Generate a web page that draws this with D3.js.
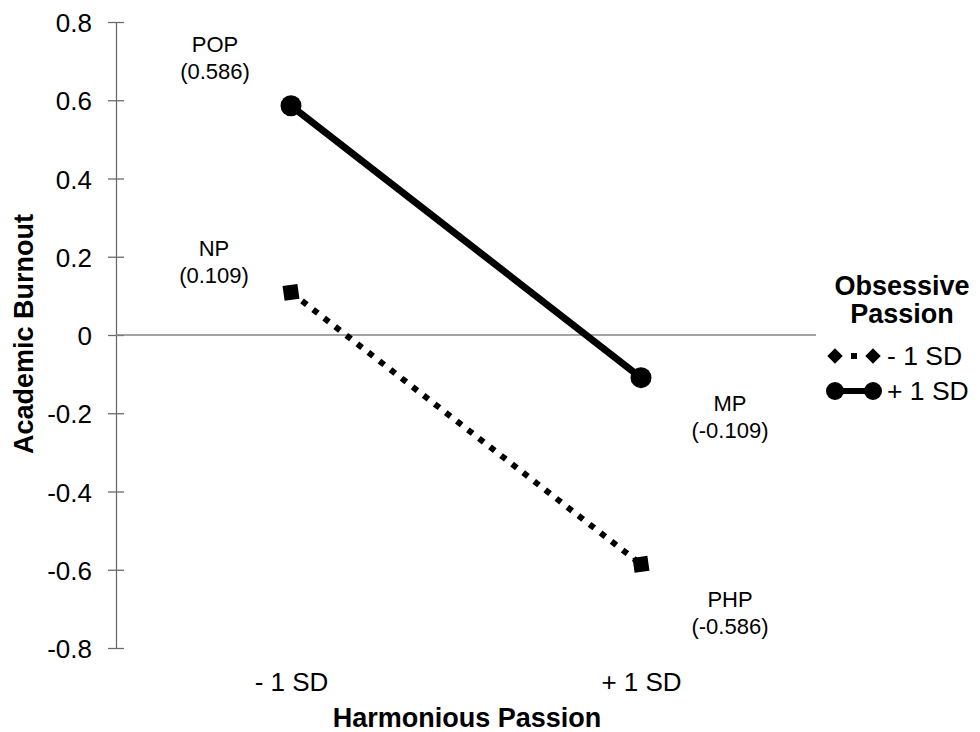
<!DOCTYPE html>
<html>
<head>
  <meta charset="utf-8">
  <title>Academic Burnout by Harmonious and Obsessive Passion</title>
  <script src="https://d3js.org/d3.v7.min.js"></script>
  <style>
    body { margin: 0; background: #fff; }
    svg { display: block; font-family: "Liberation Sans", Arial, sans-serif; }
  </style>
</head>
<body>
  <script>
    // Data
    var categories = ["- 1 SD", "+ 1 SD"];          // Harmonious Passion
    var seriesNames = ["- 1 SD", "+ 1 SD"];         // Obsessive Passion
    var lowOP = [0.109, -0.586];
    var highOP = [0.586, -0.109];
    var lowOPLabels = ["NP", "PHP"];
    var highOPLabels = ["POP", "MP"];
    var yTicks = [0.8, 0.6, 0.4, 0.2, 0, -0.2, -0.4, -0.6, -0.8];

    var width = 980, height = 732;
    var svg = d3.select("body").append("svg")
      .attr("width", width)
      .attr("height", height);

    // plot area (window.top is reserved, so use other names)
    var plotLeft = 116, plotRight = 816, plotTop = 22, plotBottom = 648;

    var x = d3.scalePoint().domain(categories).range([plotLeft, plotRight]).padding(0.5);
    var y = d3.scaleLinear().domain([-0.8, 0.8]).range([plotBottom, plotTop]);

    // y axis, ticks cross the line
    var yAxis = svg.append("g")
      .attr("transform", "translate(" + plotLeft + ",0)")
      .call(d3.axisLeft(y).tickValues(yTicks).tickSize(8).tickSizeOuter(0).tickPadding(16)
        .tickFormat(function (d) { return d === 0 ? "0" : d3.format(".1f")(d).replace("−", "-"); }));
    yAxis.select(".domain").attr("stroke", "#6b6b6b").attr("stroke-width", 1.3);
    yAxis.selectAll(".tick line").attr("x1", 8).attr("stroke", "#6b6b6b").attr("stroke-width", 1.3);
    yAxis.selectAll(".tick text")
      .attr("font-size", 26)
      .attr("font-family", "Liberation Sans, Arial, sans-serif")
      .attr("fill", "#000")
      .attr("dy", "0.37em");

    // zero line
    svg.append("line")
      .attr("x1", plotLeft).attr("x2", plotRight)
      .attr("y1", y(0)).attr("y2", y(0))
      .attr("stroke", "#858585").attr("stroke-width", 1.5);

    // x axis: labels only
    var xAxis = svg.append("g")
      .attr("transform", "translate(0," + plotBottom + ")")
      .call(d3.axisBottom(x).tickSize(0).tickPadding(25));
    xAxis.select(".domain").remove();
    xAxis.selectAll(".tick text")
      .attr("font-size", 26)
      .attr("font-family", "Liberation Sans, Arial, sans-serif")
      .attr("fill", "#000");

    // axis titles
    svg.append("text")
      .attr("x", 467).attr("y", 727)
      .attr("text-anchor", "middle")
      .attr("font-size", 27).attr("font-weight", "bold")
      .text("Harmonious Passion");

    svg.append("text")
      .attr("transform", "translate(33,334) rotate(-90)")
      .attr("text-anchor", "middle")
      .attr("font-size", 27).attr("font-weight", "bold")
      .text("Academic Burnout");

    var line = d3.line()
      .x(function (d, i) { return x(categories[i]); })
      .y(function (d) { return y(d); });

    // -1 SD obsessive passion: dotted line with square markers
    svg.append("path")
      .datum(lowOP)
      .attr("d", line)
      .attr("fill", "none")
      .attr("stroke", "#000")
      .attr("stroke-width", 6)
      .attr("stroke-dasharray", "6 8");

    svg.selectAll(".sq")
      .data(lowOP)
      .enter().append("rect")
      .attr("class", "sq")
      .attr("x", -7.5).attr("y", -7.5)
      .attr("width", 15).attr("height", 15)
      .attr("transform", function (d, i) {
        return "translate(" + x(categories[i]) + "," + y(d) + ") rotate(-8)";
      })
      .attr("fill", "#000");

    // +1 SD obsessive passion: solid line with circle markers
    svg.append("path")
      .datum(highOP)
      .attr("d", line)
      .attr("fill", "none")
      .attr("stroke", "#000")
      .attr("stroke-width", 7);

    svg.selectAll(".dot")
      .data(highOP)
      .enter().append("circle")
      .attr("class", "dot")
      .attr("cx", function (d, i) { return x(categories[i]); })
      .attr("cy", function (d) { return y(d); })
      .attr("r", 10.5)
      .attr("fill", "#000");

    // point annotations (offset from each marker)
    var labelOffsets = {
      "POP": [-76, -54], "MP": [89, 33],
      "NP": [-77, -36], "PHP": [89, 43]
    };
    function annotate(values, names) {
      values.forEach(function (v, i) {
        var off = labelOffsets[names[i]];
        var px = x(categories[i]) + off[0], py = y(v) + off[1];
        var t = svg.append("text")
          .attr("text-anchor", "middle")
          .attr("font-size", 22);
        t.append("tspan").attr("x", px).attr("y", py).text(names[i]);
        t.append("tspan").attr("x", px).attr("y", py + 27)
          .text("(" + d3.format(".3f")(v).replace("−", "-") + ")");
      });
    }
    annotate(highOP, highOPLabels);
    annotate(lowOP, lowOPLabels);

    // legend
    var lg = svg.append("g");
    lg.append("text")
      .attr("x", 902).attr("y", 295)
      .attr("text-anchor", "middle")
      .attr("font-size", 27).attr("font-weight", "bold")
      .text("Obsessive");
    lg.append("text")
      .attr("x", 902).attr("y", 323)
      .attr("text-anchor", "middle")
      .attr("font-size", 27).attr("font-weight", "bold")
      .text("Passion");

    // -1 SD row: diamond, small dot, diamond
    var r1 = 356;
    lg.append("rect")
      .attr("x", 851).attr("y", r1 - 3).attr("width", 6).attr("height", 6)
      .attr("fill", "#000");
    [835, 873].forEach(function (cx) {
      lg.append("rect")
        .attr("x", -5.5).attr("y", -5.5).attr("width", 11).attr("height", 11)
        .attr("transform", "translate(" + cx + "," + r1 + ") rotate(45)")
        .attr("fill", "#000");
    });
    lg.append("text")
      .attr("x", 887).attr("y", r1 + 9)
      .attr("font-size", 26.5)
      .text(seriesNames[0]);

    // +1 SD row
    var r2 = 391;
    lg.append("line")
      .attr("x1", 835).attr("x2", 873).attr("y1", r2).attr("y2", r2)
      .attr("stroke", "#000").attr("stroke-width", 6);
    [835, 873].forEach(function (cx) {
      lg.append("circle")
        .attr("cx", cx).attr("cy", r2).attr("r", 9)
        .attr("fill", "#000");
    });
    lg.append("text")
      .attr("x", 887).attr("y", r2 + 9)
      .attr("font-size", 26.5)
      .text(seriesNames[1]);
  </script>
</body>
</html>
